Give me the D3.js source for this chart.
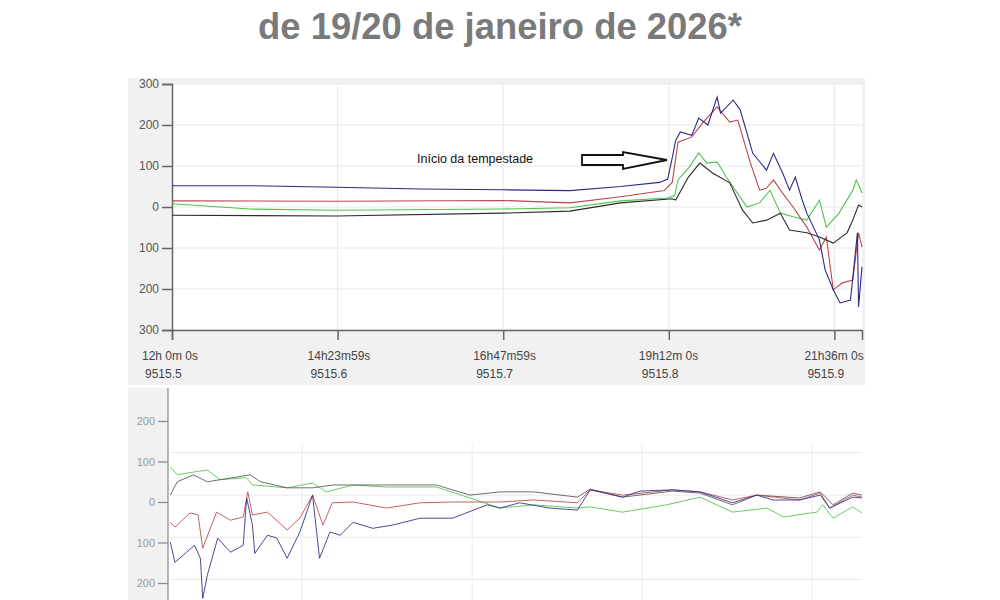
<!DOCTYPE html>
<html>
<head>
<meta charset="utf-8">
<script src="https://cdn.jsdelivr.net/npm/d3@7"></script>
<style>
  body { margin: 0; background: #fff; }
  text { font-family: "Liberation Sans", Arial, sans-serif; }
</style>
</head>
<body>
<svg id="chart" width="1000" height="600"></svg>
<script>
// time in minutes after 12h 0m 0s, value in nT
var topNavy = [[0,52],[68,52],[143,48],[216,44],[287,42],[346,40],[390,50],[424,60],[431,68],[435,120],[438,163],[442,183],[452,175],[458,217],[466,200],[474,268],[477,229],[488,261],[494,237],[500,180],[505,131],[517,90],[523,131],[531,83],[537,41],[542,73],[548,17],[552,-15],[563,-80],[568,-154],[575,-202],[581,-234],[590,-227],[596,-63],[597,-244],[600,-146]];
var topRed = [[0,15],[143,14],[287,16],[346,10],[390,25],[428,40],[435,60],[440,158],[452,171],[462,207],[474,244],[485,207],[492,212],[503,107],[511,41],[517,46],[523,66],[531,34],[540,0],[552,-49],[563,-105],[569,-73],[575,-202],[583,-185],[592,-178],[597,-63],[600,-98]];
var topGreen = [[0,8],[68,-5],[143,-8],[287,-5],[346,-2],[390,15],[431,22],[437,28],[440,66],[450,98],[458,132],[465,107],[474,110],[482,73],[500,0],[511,10],[520,41],[529,-15],[540,-24],[552,-32],[563,17],[569,-49],[580,-15],[592,41],[595,66],[600,34]];
var topBlack = [[0,-20],[143,-22],[287,-15],[346,-10],[390,10],[435,20],[438,17],[449,73],[459,107],[470,83],[485,59],[496,-7],[505,-39],[517,-32],[529,-15],[537,-56],[552,-63],[563,-73],[575,-88],[587,-63],[592,-32],[597,5],[600,0]];

var botNavy = [[2,-99],[6,-149],[16,-124],[23,-107],[28,-139],[30,-238],[34,-181],[43,-89],[54,-124],[65,-107],[68,10],[73,-57],[75,-127],[86,-82],[94,-89],[103,-139],[114,-74],[125,17],[131,-139],[140,-74],[149,-82],[160,-50],[177,-65],[194,-57],[218,-40],[246,-40],[276,-7],[287,-15],[304,-2],[330,-15],[354,-20],[365,30],[393,12],[408,27],[436,30],[460,25],[488,-2],[509,17],[523,5],[546,5],[564,17],[572,-15],[592,12],[600,10]];
var botRed = [[2,-50],[6,-62],[19,-27],[26,-32],[30,-114],[42,-25],[54,-45],[65,-37],[69,25],[73,-32],[86,-25],[103,-69],[114,-40],[125,17],[134,-57],[142,-2],[160,0],[189,-15],[218,-2],[246,0],[287,0],[316,5],[354,-2],[365,30],[393,17],[436,30],[460,25],[488,5],[509,17],[546,5],[564,22],[572,-15],[592,17],[600,12]];
var botGreen = [[2,87],[8,67],[22,74],[34,79],[45,55],[68,60],[73,42],[103,35],[125,47],[137,25],[160,42],[189,37],[232,37],[261,10],[287,-15],[316,-7],[354,-15],[365,-12],[393,-25],[431,-7],[460,12],[488,-25],[518,-15],[532,-37],[561,-25],[566,-7],[575,-40],[592,-12],[600,-27]];
var botBlack = [[2,17],[8,50],[22,67],[34,50],[45,55],[71,67],[80,50],[103,35],[125,35],[143,42],[189,42],[232,42],[261,17],[287,25],[316,25],[354,12],[365,32],[393,12],[436,27],[460,22],[488,-7],[509,17],[546,10],[564,25],[575,-7],[592,22],[600,17]];

var topXTicks = [0, 144, 288, 432, 576];
var topXLabels = [["12h 0m 0s","9515.5"],["14h23m59s","9515.6"],["16h47m59s","9515.7"],["19h12m 0s","9515.8"],["21h36m 0s","9515.9"]];
var yTicks = [300, 200, 100, 0, -100, -200, -300];
var botYTicks = [200, 100, 0, -100, -200];
var botYGrid = [122, 17, -87, -191];
var botXGrid = [116, 263, 410, 557];

var colors = ["#2b2b85", "#b8474a", "#4cc44c", "#2a2a2a"];
var svg = d3.select("#chart");

svg.append("text").attr("x", 500).attr("y", 39).attr("text-anchor", "middle")
  .attr("font-size", 36).attr("font-weight", "bold").attr("fill", "#7a7a7a")
  .attr("textLength", 484).attr("lengthAdjust", "spacingAndGlyphs")
  .text("de 19/20 de janeiro de 2026*");

// ---- top panel
svg.append("rect").attr("x", 128).attr("y", 78).attr("width", 737).attr("height", 307).attr("fill", "#f1f1f1");
var x1 = d3.scaleLinear().domain([0, 600]).range([172, 862]);
var y1 = d3.scaleLinear().domain([-300, 300]).range([330, 84]);
var g1 = svg.append("g");
g1.append("rect").attr("x", 172).attr("y", 84).attr("width", 690).attr("height", 246).attr("fill", "#fff");
g1.selectAll(".hg").data(yTicks).enter().append("line")
  .attr("x1", 172).attr("x2", 862).attr("y1", function (d) { return y1(d); }).attr("y2", function (d) { return y1(d); })
  .attr("stroke", "#e8e8e8");
g1.selectAll(".vg").data(topXTicks.slice(1)).enter().append("line")
  .attr("x1", function (d) { return x1(d); }).attr("x2", function (d) { return x1(d); }).attr("y1", 84).attr("y2", 330)
  .attr("stroke", "#e8e8e8");

var yAxis1 = d3.axisLeft(y1).tickValues(yTicks).tickSize(10).tickFormat(function (d) { return Math.abs(d); });
g1.append("g").attr("transform", "translate(172,0)").call(yAxis1);
var xAxis1 = d3.axisBottom(x1).tickValues(topXTicks).tickSize(10).tickFormat("");
g1.append("g").attr("transform", "translate(0,330)").call(xAxis1);
g1.selectAll(".domain, .tick line").attr("stroke", "#666").attr("stroke-width", 1.5);
g1.selectAll(".tick text").attr("fill", "#555").attr("font-size", 12).attr("font-family", "Liberation Sans, Arial");

var xl = g1.selectAll(".xl").data(topXTicks).enter().append("text")
  .attr("font-size", 12).attr("fill", "#444");
xl.append("tspan").attr("x", function (d) { return x1(d) - 30; }).attr("y", 360)
  .text(function (d, i) { return topXLabels[i][0]; });
xl.append("tspan").attr("x", function (d) { return x1(d) - 27; }).attr("y", 378)
  .text(function (d, i) { return topXLabels[i][1]; });

var line1 = d3.line().x(function (d) { return x1(d[0]); }).y(function (d) { return y1(d[1]); });
[topGreen, topRed, topBlack, topNavy].forEach(function (s, i) {
  g1.append("path").datum(s).attr("d", line1).attr("fill", "none")
    .attr("stroke", [colors[2], colors[1], colors[3], colors[0]][i]).attr("stroke-width", 1.1);
});

g1.append("text").attr("x", 417).attr("y", 163).attr("font-size", 12.5).attr("fill", "#111").text("Início da tempestade");
g1.append("path").attr("d", "M582,155 L623,155 L623,152 L667,160 L623,169 L623,165 L582,165 Z")
  .attr("fill", "#fff").attr("stroke", "#111").attr("stroke-width", 1.8);

// ---- bottom panel
svg.append("rect").attr("x", 128).attr("y", 388).attr("width", 40).attr("height", 212).attr("fill", "#f1f1f1");
var x2 = d3.scaleLinear().domain([0, 600]).range([168, 862]);
var y2 = d3.scaleLinear().domain([-200, 200]).range([583, 421]);
var g2 = svg.append("g");
g2.selectAll(".hg").data(botYGrid).enter().append("line")
  .attr("x1", 170).attr("x2", 862).attr("y1", function (d) { return y2(d); }).attr("y2", function (d) { return y2(d); })
  .attr("stroke", "#e8e8e8");
g2.selectAll(".vg").data(botXGrid).enter().append("line")
  .attr("x1", function (d) { return x2(d); }).attr("x2", function (d) { return x2(d); }).attr("y1", 445).attr("y2", 600)
  .attr("stroke", "#ececec");
var yAxis2 = d3.axisLeft(y2).tickValues(botYTicks).tickSize(10).tickFormat(function (d) { return Math.abs(d); });
g2.append("g").attr("transform", "translate(168,0)").call(yAxis2);
g2.select(".domain").attr("d", "M-0,388V600");
g2.selectAll(".domain, .tick line").attr("stroke", "#888").attr("stroke-width", 1.2);
g2.selectAll(".tick text").attr("fill", "#999").attr("font-size", 11).attr("font-family", "Liberation Sans, Arial");

var line2 = d3.line().x(function (d) { return x2(d[0]); }).y(function (d) { return y2(d[1]); });
[botGreen, botBlack, botRed, botNavy].forEach(function (s, i) {
  g2.append("path").datum(s).attr("d", line2).attr("fill", "none")
    .attr("stroke", [colors[2], "#555", colors[1], colors[0]][i]).attr("stroke-width", 1)
    .attr("stroke-opacity", 0.85);
});
</script>
</body>
</html>
